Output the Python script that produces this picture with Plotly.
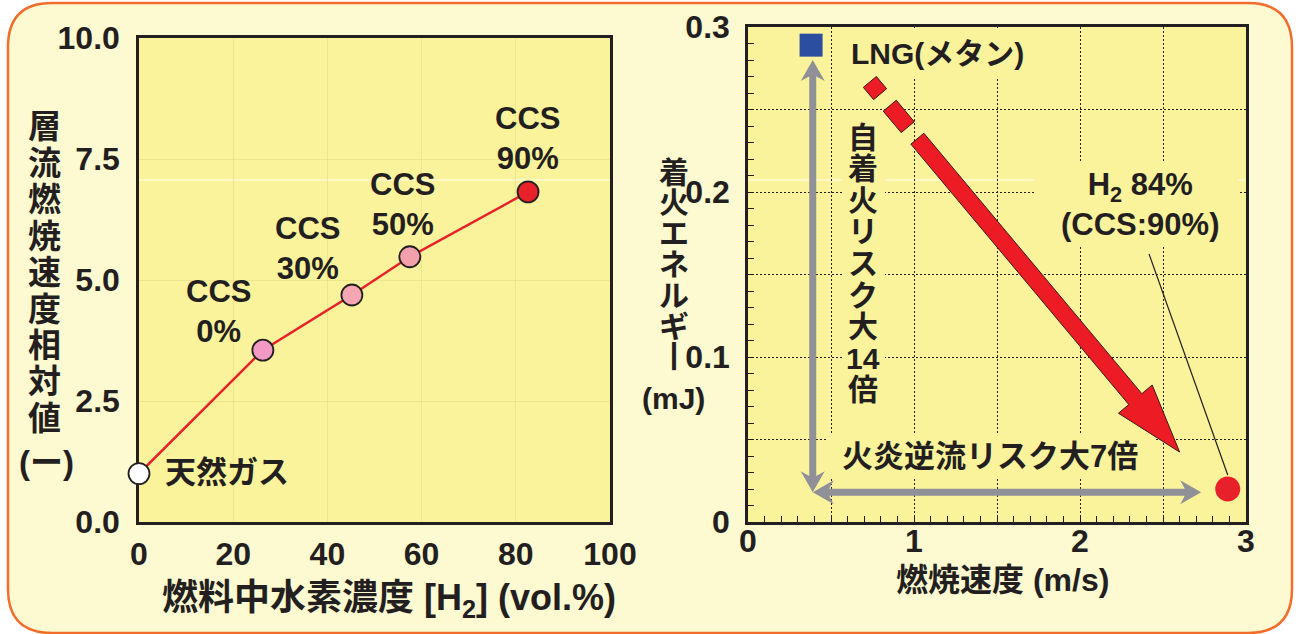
import math
import plotly.graph_objects as go

# ---------------------------------------------------------------- canvas
W, H = 1298, 634
INK = "#231F20"
CREAM = "#FDF9D1"
PLOT_YELLOW = "#FBF39C"
BORDER = "#F26D2C"
RED = "#E8202A"
GRAY = "#909097"
BLUE = "#2C4EA0"
FONT = "Liberation Sans, Arial, Noto Sans CJK JP, sans-serif"

# ---------------------------------------------------------------- left panel data
h2_vol = [0, 26.3, 45.2, 57.5, 82.6]            # 燃料中水素濃度 (vol.%)
rel_speed = [1.0, 3.55, 4.69, 5.48, 6.82]       # 層流燃焼速度相対値
point_colors = ["#FFFFFF", "#F29AC4", "#F6A6B2", "#F4A0AC", "#E8222B"]
point_names = ["天然ガス", "CCS<br>0%", "CCS<br>30%", "CCS<br>50%", "CCS<br>90%"]
left_xticks = [0, 20, 40, 60, 80, 100]
left_yticks = [0, 2.5, 5.0, 7.5, 10.0]
left_yticktext = ["0.0", "2.5", "5.0", "7.5", "10.0"]

# ---------------------------------------------------------------- right panel data
lng_speed, lng_energy = [0.38], [0.289]         # LNG(メタン)
h2_speed, h2_energy = [2.89], [0.020]           # H2 84% (CCS:90%)
right_xticks = [0, 1, 2, 3]
right_yticks = [0, 0.1, 0.2, 0.3]
right_yticktext = ["0", "0.1", "0.2", "0.3"]

risk_corner = (0.39, 0.018)       # common origin of the two grey arrows
ignition_top = (0.39, 0.280)      # 自着火リスク大 arrow end
flashback_end = (2.73, 0.018)     # 火炎逆流リスク大 arrow end
trend_start = (0.765, 0.263)      # red trend arrow, first dash centre
trend_tip = (2.60, 0.0424)        # red trend arrow tip
leader = [(2.416, 0.1624), (2.89, 0.0285)]

# ---------------------------------------------------------------- geometry helpers
XL = [139 / W, 610 / W]
YL = [1 - 522 / H, 1 - 38 / H]
XR = [748 / W, 1246 / W]
YR = [1 - 522 / H, 1 - 27 / H]
XR_RANGE = [0, 3]
YR_RANGE = [0, 0.3]


def pp(xp, yp):
    """pixel position -> paper coordinates"""
    return xp / W, 1 - yp / H


# pixels per data unit on the right panel
SX = (XR[1] - XR[0]) * W / (XR_RANGE[1] - XR_RANGE[0])
SY = (YR[1] - YR[0]) * H / (YR_RANGE[1] - YR_RANGE[0])


def to_px(p):
    return (p[0] * SX, -p[1] * SY)


def to_data(q):
    return (q[0] / SX, -q[1] / SY)


def path_from_px(points):
    pts = [to_data(q) for q in points]
    return "M " + " L ".join(f"{x:.5f},{y:.6f}" for x, y in pts) + " Z"


def frame(a, b):
    pa, pb = to_px(a), to_px(b)
    dx, dy = pb[0] - pa[0], pb[1] - pa[1]
    length = math.hypot(dx, dy)
    u = (dx / length, dy / length)
    n = (-u[1], u[0])
    return pa, pb, u, n, length


def at(origin, u, n, t, s):
    return (origin[0] + u[0] * t + n[0] * s, origin[1] + u[1] * t + n[1] * s)


def double_arrow(a, b, shaft=7, head_len=21, head_half=12):
    pa, pb, u, n, L = frame(a, b)
    hw = shaft / 2
    j = head_len * 0.78
    pts = [
        pa,
        at(pa, u, n, head_len, head_half), at(pa, u, n, j, hw),
        at(pa, u, n, L - j, hw), at(pa, u, n, L - head_len, head_half),
        pb,
        at(pa, u, n, L - head_len, -head_half), at(pa, u, n, L - j, -hw),
        at(pa, u, n, j, -hw), at(pa, u, n, head_len, -head_half),
    ]
    return path_from_px(pts)


def dashed_trend_arrow(a, b, width=17, head_len=69, head_half=22):
    pa, pb, u, n, L = frame(a, b)
    hw = width / 2
    paths = []
    for t0, t1 in [(-8, 8), (23, 51)]:
        paths.append(path_from_px([at(pa, u, n, t0, hw), at(pa, u, n, t1, hw),
                                   at(pa, u, n, t1, -hw), at(pa, u, n, t0, -hw)]))
    base = L - head_len
    paths.append(path_from_px([
        at(pa, u, n, 66, hw), at(pa, u, n, base, hw), at(pa, u, n, base, head_half),
        pb,
        at(pa, u, n, base, -head_half), at(pa, u, n, base, -hw), at(pa, u, n, 66, -hw),
    ]))
    return paths


# ---------------------------------------------------------------- figure
fig = go.Figure()

fig.add_trace(go.Scatter(
    x=h2_vol, y=rel_speed, mode="lines+markers", xaxis="x", yaxis="y",
    line=dict(color=RED, width=2.5),
    marker=dict(size=21, color=point_colors, line=dict(color=INK, width=1.8)),
    cliponaxis=False, hoverinfo="skip", showlegend=False,
))
fig.add_trace(go.Scatter(
    x=lng_speed, y=lng_energy, mode="markers", xaxis="x2", yaxis="y2",
    marker=dict(symbol="square", size=23, color=BLUE),
    hoverinfo="skip", showlegend=False,
))
fig.add_trace(go.Scatter(
    x=h2_speed, y=h2_energy, mode="markers", xaxis="x2", yaxis="y2",
    marker=dict(symbol="circle", size=25, color=RED),
    cliponaxis=False, hoverinfo="skip", showlegend=False,
))
# carrier for the fine tick axes of the right panel
fig.add_trace(go.Scatter(
    x=[0], y=[0], mode="markers", xaxis="x3", yaxis="y3",
    marker=dict(opacity=0), hoverinfo="skip", showlegend=False,
))

tickfont = dict(family=FONT, size=32, color=INK, weight="bold")
dot_grid = dict(gridcolor=INK, griddash="2px,2px", gridwidth=1.3)

fig.update_layout(
    width=W, height=H,
    margin=dict(l=0, r=0, t=0, b=0, pad=0, autoexpand=False),
    paper_bgcolor="#FFFFFF",
    plot_bgcolor="rgba(0,0,0,0)",
    showlegend=False,
    xaxis=dict(domain=XL, range=[0, 100], tickvals=left_xticks, anchor="y",
               automargin=False,
               showline=True, mirror=True, linecolor=INK, linewidth=2.5,
               showgrid=True, gridcolor="rgba(215,205,110,0.35)", gridwidth=1,
               zeroline=False, ticks="", tickfont=tickfont, ticklabelstandoff=2,
               layer="below traces"),
    yaxis=dict(domain=YL, range=[0, 10], tickvals=left_yticks, ticktext=left_yticktext,
               anchor="x", automargin=False,
               showline=True, mirror=True, linecolor=INK, linewidth=2.5,
               showgrid=True, gridcolor="rgba(215,205,110,0.35)", gridwidth=1,
               zeroline=False, ticks="", tickfont=tickfont, ticklabelstandoff=10,
               layer="below traces"),
    xaxis2=dict(domain=XR, range=XR_RANGE, tickvals=right_xticks, anchor="y2",
                automargin=False,
                showline=True, mirror=True, linecolor=INK, linewidth=2.5,
                showgrid=True, zeroline=False, ticks="", tickfont=tickfont,
                ticklabelstandoff=-11,
                minor=dict(tickvals=[0.5, 1.5, 2.5], showgrid=True, ticks="", **dot_grid),
                **dot_grid),
    yaxis2=dict(domain=YR, range=YR_RANGE, tickvals=right_yticks, ticktext=right_yticktext,
                anchor="x2", automargin=False,
                showline=True, mirror=True, linecolor=INK, linewidth=2.5,
                showgrid=True, zeroline=False, ticks="", tickfont=tickfont,
                ticklabelstandoff=9,
                minor=dict(tickvals=[0.05, 0.15, 0.25], showgrid=True, ticks="", **dot_grid),
                **dot_grid),
    xaxis3=dict(overlaying="x2", range=XR_RANGE, dtick=0.1, tick0=0, anchor="y3",
                automargin=False,
                side="bottom", ticks="inside", ticklen=6, tickwidth=1.3, tickcolor=INK,
                showticklabels=False, showgrid=False, zeroline=False, showline=False),
    yaxis3=dict(overlaying="y2", range=YR_RANGE, dtick=0.01, tick0=0, anchor="x3",
                automargin=False,
                side="left", ticks="inside", ticklen=6, tickwidth=1.3, tickcolor=INK,
                showticklabels=False, showgrid=False, zeroline=False, showline=False),
)

# ---------------------------------------------------------------- shapes
shapes = []

# rounded panel background
x0, x1, y0, y1, r = 8, 1292, 3, 633, 44
corner_pts = [
    ("M", (x0 + r, y0)), ("L", (x1 - r, y0)), ("Q", (x1, y0), (x1, y0 + r)),
    ("L", (x1, y1 - r)), ("Q", (x1, y1), (x1 - r, y1)), ("L", (x0 + r, y1)),
    ("Q", (x0, y1), (x0, y1 - r)), ("L", (x0, y0 + r)), ("Q", (x0, y0), (x0 + r, y0)),
]
segs = []
for item in corner_pts:
    cmd, pts = item[0], item[1:]
    segs.append(cmd + " " + " ".join("{:.5f},{:.5f}".format(*pp(*p)) for p in pts))
shapes.append(dict(type="path", xref="paper", yref="paper", layer="below",
                   path=" ".join(segs) + " Z", fillcolor=CREAM,
                   line=dict(color=BORDER, width=2.5)))

# plot area fills
for xr, yr in [("x domain", "y domain"), ("x2 domain", "y2 domain")]:
    shapes.append(dict(type="rect", xref=xr, yref=yr, x0=0, x1=1, y0=0, y1=1,
                       layer="below", fillcolor=PLOT_YELLOW, line=dict(width=0)))

# thin light seam running across the upper part of both panels
for xa, xb in [(XL[0], XL[1]), (XR[0], XR[1])]:
    shapes.append(dict(type="line", xref="paper", yref="paper", x0=xa, x1=xb,
                       y0=1 - 180 / H, y1=1 - 180 / H, layer="below",
                       line=dict(color="rgba(255,255,255,0.85)", width=1)))

# label backing boxes that interrupt the dotted grid
for bx0, by0, bx1, by1 in [(840, 28, 1030, 77), (842, 118, 885, 410),
                           (1035, 163, 1238, 245), (826, 435, 1155, 478)]:
    a, b = pp(bx0, by1)
    c, d = pp(bx1, by0)
    shapes.append(dict(type="rect", xref="paper", yref="paper", x0=a, y0=b, x1=c, y1=d,
                       layer="above", fillcolor=PLOT_YELLOW, line=dict(width=0)))

# grey risk arrows
for end in [ignition_top, flashback_end]:
    shapes.append(dict(type="path", xref="x2", yref="y2", layer="above",
                       path=double_arrow(risk_corner, end), fillcolor=GRAY,
                       line=dict(width=0)))

# red trend arrow (dashed start)
for pth in dashed_trend_arrow(trend_start, trend_tip):
    shapes.append(dict(type="path", xref="x2", yref="y2", layer="above", path=pth,
                       fillcolor="#ED1C24", line=dict(color="#3A1A1A", width=1)))

# leader line to the hydrogen point
shapes.append(dict(type="line", xref="x2", yref="y2", layer="above",
                   x0=leader[0][0], y0=leader[0][1], x1=leader[1][0], y1=leader[1][1],
                   line=dict(color=INK, width=1.2)))

fig.update_layout(shapes=shapes)

# ---------------------------------------------------------------- text
annotations = []


def label(text, xp, yp, size=31, xanchor="center"):
    x, y = pp(xp, yp)
    annotations.append(dict(text=text, x=x, y=y, xref="paper", yref="paper",
                            showarrow=False, xanchor=xanchor, yanchor="middle",
                            font=dict(family=FONT, size=size, color=INK, weight="bold")))


# point labels, left panel
label(point_names[0], 163, 472, 31, "left")
for name, (xp, yp) in zip(point_names[1:], [(218, 311), (307, 248), (402, 204), (527, 138)]):
    label(name, xp, yp, 31)

# left axis titles
left_title = list("層流燃焼速度相対値")
for i, ch in enumerate(left_title):
    label(ch, 44, 127 + 36.4 * i, 33)
label("(ー)", 46, 462, 33)
label("燃料中水素濃度 [H<sub>2</sub>] (vol.%)", 389, 600, 36)

# right panel labels
label("LNG(メタン)", 849, 53, 30, "left")
label("H<sub>2</sub> 84%<br>(CCS:90%)", 1140, 204, 31)
label("火炎逆流リスク大7倍", 990, 456, 31)
inner_v = ["自", "着", "火", "リ", "ス", "ク", "大", "14", "倍"]
for i, ch in enumerate(inner_v):
    label(ch, 863, 137 + 31.6 * i, 30)

# right axis titles
right_title = ["着", "火", "エ", "ネ", "ル", "ギ", "丨"]
for i, ch in enumerate(right_title):
    label(ch, 674, 172 + 30.8 * i, 30)
label("(mJ)", 673, 398, 30)
label("燃焼速度 (m/s)", 1002, 580, 32)

fig.update_layout(annotations=annotations)

fig.write_html("out.html")
